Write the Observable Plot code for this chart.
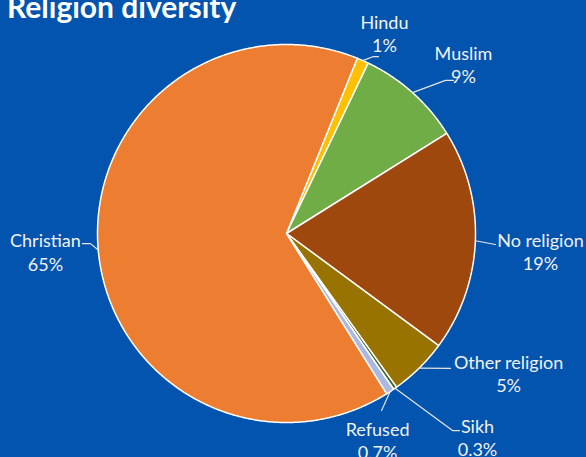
<!DOCTYPE html>
<html>
<head>
<meta charset="utf-8">
<script src="https://cdn.jsdelivr.net/npm/d3@7"></script>
<script src="https://cdn.jsdelivr.net/npm/@observablehq/plot@0.6"></script>
<style>
  html, body { margin: 0; padding: 0; background: #0254AE; overflow: hidden; }
  #wrap { position: relative; width: 586px; height: 457px; background: #0254AE; }
  #title { position: absolute; left: 7px; top: -9px; font-family: Lato, sans-serif; font-weight: 700;
           font-size: 30px; line-height: 30px; color: #ffffff; white-space: nowrap; }
  svg { display: block; }
</style>
</head>
<body>
<div id="wrap">
  <div id="chart"></div>
  <div id="title">Religion diversity</div>
</div>
<script>
// ---- data ----
const categories = ["Hindu", "Muslim", "No religion", "Other religion", "Sikh", "Refused", "Christian"];
const values = [1, 9, 19, 5, 0.3, 0.7, 65];
const valueLabels = ["1%", "9%", "19%", "5%", "0.3%", "0.7%", "65%"];
const colors = ["#FFC000", "#70AD47", "#9E480E", "#997300", "#43682B", "#A9B9E3", "#ED7D31"];

// ---- layout ----
const W = 586, H = 457, R = 189, cx = 286, cy = 233;
const startAngle = 22; // degrees, clockwise from 12 o'clock
const labelAngle = [26.1, 46.3, 94.05, 122.1, 136.9, 156.2, 265.7];
const labelRadius = [1.178, 1.295, 1.347, 1.387, 1.479, 1.194, 1.279];
// leader end relative to label centre (px), and elbow length (px, horizontal)
const leaderEndDx = [-6, -10, -45, -58, -18, 4, 37];
const leaderEndDy = [23, 16, -7, -4.5, -7, -29.5, -8];
const elbowDx = [-5, -8, 0, 0, -7, 0, 8];

const rad = d => d * Math.PI / 180;
const polar = (a, r) => ({x: r * Math.sin(rad(a)), y: r * Math.cos(rad(a))});

const total = d3.sum(values);
let acc = startAngle;
const slices = categories.map((c, i) => {
  const a0 = acc, a1 = acc + values[i] / total * 360;
  acc = a1;
  return {cat: c, a0, a1, mid: (a0 + a1) / 2, color: colors[i], label: valueLabels[i], i};
});

const slicePts = [];
for (const s of slices) {
  slicePts.push({cat: s.cat, x: 0, y: 0});
  const n = Math.max(2, Math.ceil((s.a1 - s.a0) / 0.5));
  for (let k = 0; k <= n; k++) {
    const p = polar(s.a0 + (s.a1 - s.a0) * k / n, 1);
    slicePts.push({cat: s.cat, ...p});
  }
  slicePts.push({cat: s.cat, x: 0, y: 0});
}

const labels = slices.map(s => {
  const p = polar(labelAngle[s.i], labelRadius[s.i]);
  return {cat: s.cat, x: p.x, y: p.y, text: s.cat + "\n" + s.label};
});

const leaderPts = [];
for (const s of slices) {
  const e = polar(s.mid, 1);
  const L = labels[s.i];
  const endX = L.x + leaderEndDx[s.i] / R, endY = L.y - leaderEndDy[s.i] / R;
  leaderPts.push({cat: s.cat, x: e.x, y: e.y});
  if (elbowDx[s.i] !== 0) leaderPts.push({cat: s.cat, x: endX + elbowDx[s.i] / R, y: endY});
  leaderPts.push({cat: s.cat, x: endX, y: endY});
}

const chart = Plot.plot({
  width: W, height: H,
  margin: 0,
  style: {background: "#0254AE", overflow: "visible"},
  x: {domain: [-cx / R, (W - cx) / R], axis: null},
  y: {domain: [(cy - H) / R, cy / R], axis: null},
  marks: [
    ...slices.map(s => Plot.line(slicePts.filter(d => d.cat === s.cat), {
      x: "x", y: "y", fill: s.color, stroke: "white", strokeWidth: 1.5, strokeLinejoin: "round"
    })),
    Plot.line(leaderPts, {x: "x", y: "y", z: "cat", stroke: "#E6E6E6", strokeWidth: 1.2}),
    Plot.text(labels, {
      x: "x", y: "y", text: "text", fill: "#F2F2F2", fontSize: 18, fontFamily: "Lato",
      lineHeight: 1.28, textAnchor: "middle"
    })
  ]
});
document.getElementById("chart").appendChild(chart);
</script>
</body>
</html>
